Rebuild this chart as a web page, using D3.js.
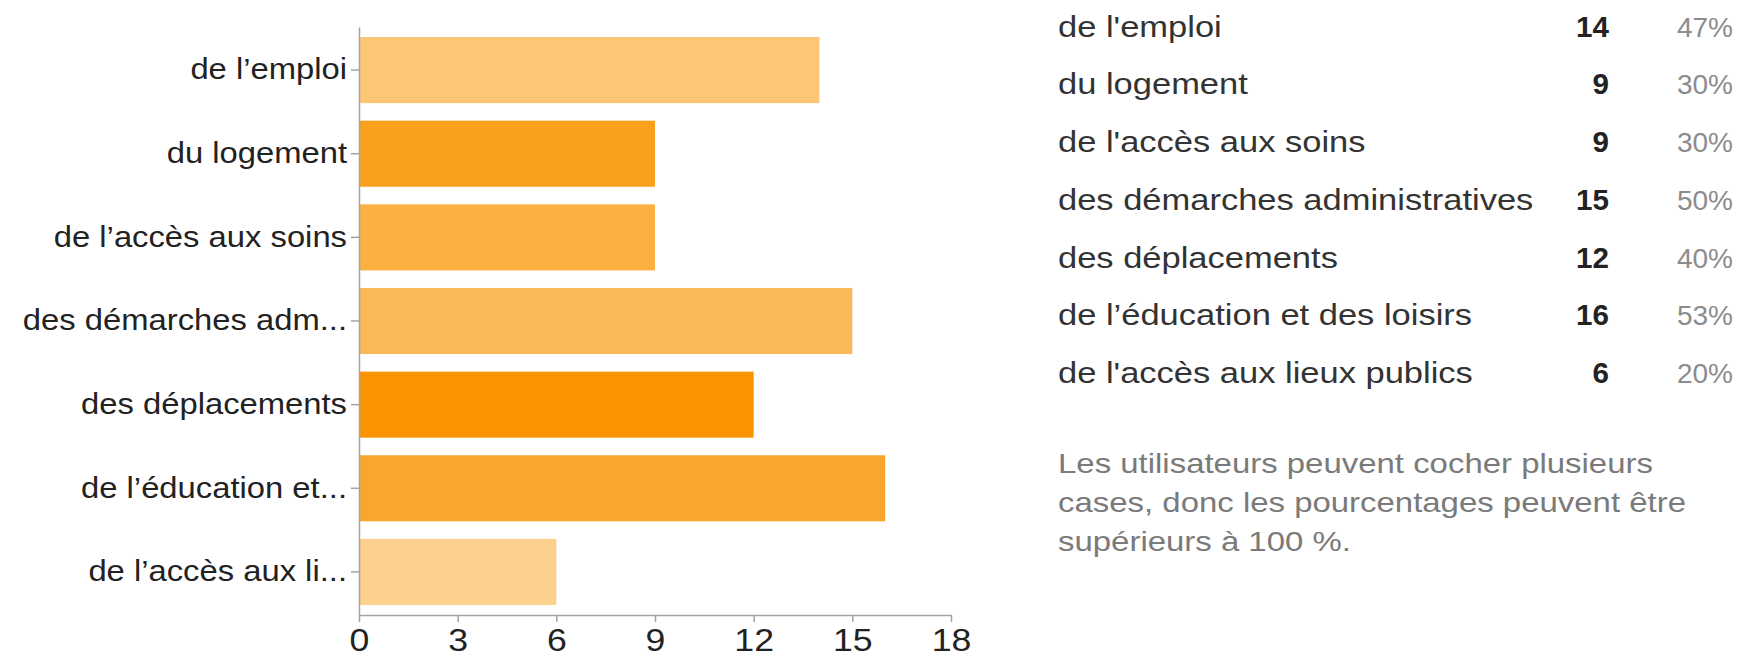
<!DOCTYPE html>
<html>

<head>
    <meta charset="utf-8">
    <style>
        body {
            margin: 0;
            background: #fff;
            font-family: Arial, 'Liberation Sans', sans-serif;
        }

        svg {
            display: block;
        }

        .axis .domain,
        .axis .tick line {
            stroke: #a3a3a3;
            stroke-width: 1.5px;
        }

        .y .tick text {
            font-size: 29px;
            fill: #222;
        }

        .x .tick text {
            font-size: 31px;
            fill: #222;
        }

        .row-label {
            font-size: 30px;
            fill: #333;
        }

        .row-count {
            font-size: 29px;
            font-weight: bold;
            fill: #222;
        }

        .row-pct {
            font-size: 28px;
            fill: #8c8c8c;
        }

        .note {
            font-size: 27px;
            fill: #7a7a7a;
        }
    </style>
</head>

<body>
    <svg width="1755" height="658"></svg>

    <script src="https://d3js.org/d3.v7.min.js"></script>
    <script>

        // data
        let categories = ["de l’emploi", "du logement", "de l’accès aux soins", "des démarches administratives",
            "des déplacements", "de l’éducation et des loisirs", "de l’accès aux lieux publics"];
        let shortLabels = ["de l’emploi", "du logement", "de l’accès aux soins", "des démarches adm...",
            "des déplacements", "de l’éducation et...", "de l’accès aux li..."];
        let tableLabels = ["de l'emploi", "du logement", "de l'accès aux soins", "des démarches administratives",
            "des déplacements", "de l’éducation et des loisirs", "de l'accès aux lieux publics"];
        let counts = [14, 9, 9, 15, 12, 16, 6];
        let percents = ["47%", "30%", "30%", "50%", "40%", "53%", "20%"];
        let barColors = ["#fdc677", "#f9a11c", "#fbb041", "#fbb858", "#f99400", "#faa62e", "#fdd08d"];
        let xTicks = [0, 3, 6, 9, 12, 15, 18];
        let noteLines = ["Les utilisateurs peuvent cocher plusieurs",
            "cases, donc les pourcentages peuvent être",
            "supérieurs à 100 %."];

        let svg = d3.select("svg")

        // the text in the screenshot is wider than its height suggests
        function stretch(sel, sx) {
            sel.each(function () {
                let t = d3.select(this)
                let x = +t.attr("x") || 0
                t.attr("x", x / sx).attr("transform", `scale(${sx},1)`)
            })
        }

        let x = d3.scaleLinear()
            .domain([0, 18])
            .range([359, 951])

        let y = d3.scaleBand()
            .domain(categories)
            .range([27, 615])
            .paddingInner(0.21)
            .paddingOuter(0.12)

        // bars
        svg.append("g")
            .selectAll("rect")
            .data(categories)
            .join("rect")
            .attr("x", x(0))
            .attr("y", d => y(d))
            .attr("width", (d, i) => x(counts[i]) - x(0))
            .attr("height", y.bandwidth())
            .style("fill", (d, i) => barColors[i])

        let yAxis = svg.append("g")
            .attr("class", "y axis")
            .attr("transform", `translate(${x(0)},0)`)
            .call(d3.axisLeft(y)
                .tickSize(8)
                .tickSizeOuter(0)
                .tickPadding(4)
                .tickFormat((d, i) => shortLabels[i]))

        stretch(yAxis.selectAll(".tick text"), 1.13)

        let xAxis = svg.append("g")
            .attr("class", "x axis")
            .attr("transform", `translate(0,${y.range()[1]})`)
            .call(d3.axisBottom(x)
                .tickValues(xTicks)
                .tickSize(7)
                .tickSizeOuter(0)
                .tickPadding(7))

        stretch(xAxis.selectAll(".tick text"), 1.15)

        // summary table on the right
        let rowY = d3.scalePoint()
            .domain(categories)
            .range([36.5, 383])

        let rows = svg.append("g")
            .selectAll("g")
            .data(categories)
            .join("g")
            .attr("transform", d => `translate(0,${rowY(d)})`)

        rows.append("text")
            .attr("class", "row-label")
            .attr("transform", "translate(1058,0) scale(1.15,1)")
            .text((d, i) => tableLabels[i])

        rows.append("text")
            .attr("class", "row-count")
            .attr("text-anchor", "end")
            .attr("transform", "translate(1609,0) scale(1.02,1)")
            .text((d, i) => counts[i])

        rows.append("text")
            .attr("class", "row-pct")
            .attr("text-anchor", "end")
            .attr("transform", "translate(1733,0) scale(1.0,1)")
            .text((d, i) => percents[i])

        svg.append("g")
            .selectAll("text")
            .data(noteLines)
            .join("text")
            .attr("class", "note")
            .attr("transform", (d, i) => `translate(1058,${473 + i * 39}) scale(1.22,1)`)
            .text(d => d)

    </script>
</body>

</html>
